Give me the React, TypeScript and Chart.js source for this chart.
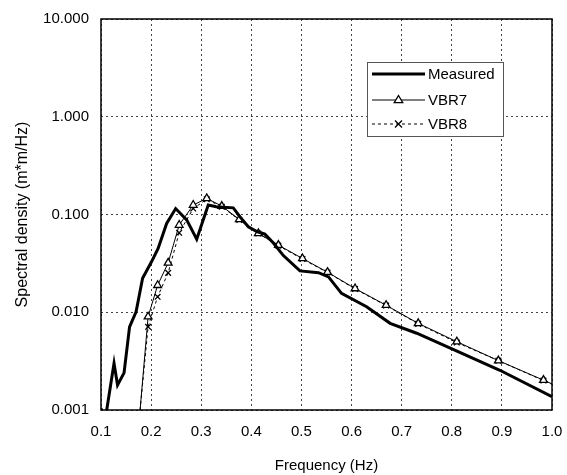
import React, { useEffect, useRef } from "react";
import { Chart, registerables } from "chart.js";

Chart.register(...registerables);

const measuredFreq = [0.1, 0.104, 0.11, 0.126, 0.133, 0.146, 0.157, 0.17, 0.183, 0.201, 0.214, 0.231, 0.249, 0.271, 0.291, 0.314, 0.33, 0.364, 0.377, 0.394, 0.411, 0.427, 0.444, 0.464, 0.497, 0.534, 0.554, 0.58, 0.63, 0.677, 0.73, 0.797, 0.896, 1.0];
const measuredVal = [0.00105, 0.0008, 0.0009, 0.003, 0.0018, 0.0024, 0.0071, 0.0101, 0.0223, 0.033, 0.045, 0.081, 0.115, 0.088, 0.056, 0.125, 0.12, 0.117, 0.095, 0.075, 0.067, 0.063, 0.051, 0.038, 0.0265, 0.0254, 0.023, 0.0156, 0.0114, 0.0077, 0.0061, 0.0043, 0.00255, 0.00137];

const modelFreq = [0.178, 0.194, 0.213, 0.234, 0.256, 0.284, 0.311, 0.341, 0.376, 0.414, 0.454, 0.502, 0.552, 0.607, 0.669, 0.733, 0.81, 0.893, 0.983, 1.0];
const vbr7Val = [0.001, 0.009, 0.0189, 0.032, 0.078, 0.125, 0.146, 0.122, 0.089, 0.064, 0.0486, 0.0355, 0.0257, 0.0175, 0.0118, 0.0077, 0.005, 0.0032, 0.00202, 0.00185];
const vbr8Val = [0.001, 0.0071, 0.0144, 0.0253, 0.065, 0.115, 0.143, 0.12, 0.088, 0.064, 0.048, 0.035, 0.0255, 0.0173, 0.0117, 0.0076, 0.0049, 0.0032, 0.002, 0.00183];

const xTicks = [0.1, 0.2, 0.3, 0.4, 0.5, 0.6, 0.7, 0.8, 0.9, 1.0];
const yTicks = [0.001, 0.01, 0.1, 1, 10];
const yTickLabels = ["0.001", "0.010", "0.100", "1.000", "10.000"];

const seriesLabels = ["Measured", "VBR7", "VBR8"];

const FONT = "'Liberation Sans', Arial, sans-serif";

function toPoints(xs: number[], ys: number[]) {
  return xs.map((x, i) => ({ x, y: ys[i] }));
}

function markerRadii(n: number, r: number) {
  return Array.from({ length: n }, (_, i) => (i === 0 || i === n - 1 ? 0 : r));
}

const boxPlugin = {
  id: "boxAndLegend",
  afterDatasetsDraw(chart: any) {
    const { ctx, chartArea } = chart;
    const { left, top, right, bottom } = chartArea;
    ctx.save();
    // frame
    ctx.strokeStyle = "#000";
    ctx.lineWidth = 1.5;
    ctx.setLineDash([]);
    ctx.strokeRect(left, top, right - left, bottom - top);

    // legend box
    const lx = left + 266;
    const ly = top + 43;
    const lw = 136;
    const lh = 74;
    ctx.fillStyle = "#fff";
    ctx.fillRect(lx, ly, lw, lh);
    ctx.strokeStyle = "#555";
    ctx.lineWidth = 1;
    ctx.strokeRect(lx + 0.5, ly + 0.5, lw, lh);

    const rows = [ly + 12, ly + 38, ly + 62];
    const x0 = lx + 5;
    const x1 = lx + 58;
    const xm = (x0 + x1) / 2;
    ctx.font = `15px ${FONT}`;
    ctx.textBaseline = "middle";
    ctx.textAlign = "left";
    ctx.fillStyle = "#000";
    chart.data.datasets.forEach((ds: any, i: number) => {
      const y = rows[i];
      ctx.strokeStyle = "#000";
      ctx.lineWidth = ds.borderWidth;
      ctx.setLineDash(ds.borderDash || []);
      ctx.beginPath();
      ctx.moveTo(x0, y);
      ctx.lineTo(x1, y);
      ctx.stroke();
      ctx.setLineDash([]);
      ctx.lineWidth = 1.3;
      if (ds.pointStyle === "triangle") {
        const r = 4.5;
        ctx.fillStyle = "#fff";
        ctx.beginPath();
        ctx.moveTo(xm, y - r);
        ctx.lineTo(xm + r * 0.95, y + r * 0.6);
        ctx.lineTo(xm - r * 0.95, y + r * 0.6);
        ctx.closePath();
        ctx.fill();
        ctx.stroke();
      } else if (ds.pointStyle === "crossRot") {
        const r = 3.5;
        ctx.beginPath();
        ctx.moveTo(xm - r, y - r);
        ctx.lineTo(xm + r, y + r);
        ctx.moveTo(xm + r, y - r);
        ctx.lineTo(xm - r, y + r);
        ctx.stroke();
      }
      ctx.fillStyle = "#000";
      ctx.fillText(ds.label, x1 + 3, y + 1);
    });
    ctx.restore();
  },
};

export default function App() {
  const canvasRef = useRef<HTMLCanvasElement | null>(null);

  useEffect(() => {
    if (!canvasRef.current) return;
    const chart = new Chart(canvasRef.current, {
      type: "line",
      data: {
        datasets: [
          {
            label: seriesLabels[0],
            data: toPoints(measuredFreq, measuredVal),
            borderColor: "#000",
            borderWidth: 3,
            pointRadius: 0,
            tension: 0,
            fill: false,
          },
          {
            label: seriesLabels[1],
            data: toPoints(modelFreq, vbr7Val),
            borderColor: "#000",
            borderWidth: 1,
            pointStyle: "triangle",
            pointRadius: markerRadii(modelFreq.length, 4.5),
            pointBackgroundColor: "#fff",
            pointBorderColor: "#000",
            pointBorderWidth: 1.3,
            tension: 0,
            fill: false,
          },
          {
            label: seriesLabels[2],
            data: toPoints(modelFreq, vbr8Val),
            borderColor: "#000",
            borderWidth: 1,
            borderDash: [3, 3],
            pointStyle: "crossRot",
            pointRadius: markerRadii(modelFreq.length, 4),
            pointBorderColor: "#000",
            pointBorderWidth: 1.3,
            tension: 0,
            fill: false,
          },
        ],
      },
      options: {
        animation: false,
        responsive: true,
        maintainAspectRatio: false,
        layout: { padding: { left: 0, top: 19, right: 15, bottom: 0 } },
        plugins: {
          legend: { display: false },
          tooltip: { enabled: false },
        },
        scales: {
          x: {
            type: "linear",
            min: 0.1,
            max: 1.0,
            afterBuildTicks: (s: any) => {
              s.ticks = xTicks.map((v) => ({ value: v }));
            },
            afterFit: (s: any) => {
              s.height = 65;
              s.paddingLeft = 0;
              s.paddingRight = 0;
            },
            ticks: {
              color: "#000",
              font: { family: FONT, size: 15 },
              padding: 13,
              maxRotation: 0,
              autoSkip: false,
              callback: (v: any) => Number(v).toFixed(1),
            },
            grid: {
              color: "#444",
              lineWidth: 1,
              drawTicks: false,
            },
            border: { display: false, dash: [2, 3] },
            title: {
              display: true,
              text: "Frequency (Hz)",
              color: "#000",
              font: { family: FONT, size: 15 },
              padding: { top: 0, bottom: 0 },
            },
          },
          y: {
            type: "logarithmic",
            min: 0.001,
            max: 10,
            afterBuildTicks: (s: any) => {
              s.ticks = yTicks.map((v) => ({ value: v }));
            },
            afterFit: (s: any) => {
              s.width = 101;
              s.paddingTop = 0;
              s.paddingBottom = 0;
            },
            ticks: {
              color: "#000",
              font: { family: FONT, size: 15 },
              padding: 12,
              autoSkip: false,
              callback: (v: any) => {
                const i = yTicks.findIndex((t) => Math.abs(Math.log10(t) - Math.log10(Number(v))) < 1e-6);
                return i >= 0 ? yTickLabels[i] : "";
              },
            },
            grid: {
              color: "#444",
              lineWidth: 1,
              drawTicks: false,
            },
            border: { display: false, dash: [2, 3] },
            title: {
              display: true,
              text: "Spectral density (m*m/Hz)",
              color: "#000",
              font: { family: FONT, size: 16 },
              padding: { top: 13, bottom: 0 },
            },
          },
        },
      },
      plugins: [boxPlugin],
    });
    return () => chart.destroy();
  }, []);

  return (
    <div style={{ position: "fixed", left: 0, top: 0, width: 567, height: 475, background: "#fff" }}>
      <canvas ref={canvasRef} />
    </div>
  );
}
